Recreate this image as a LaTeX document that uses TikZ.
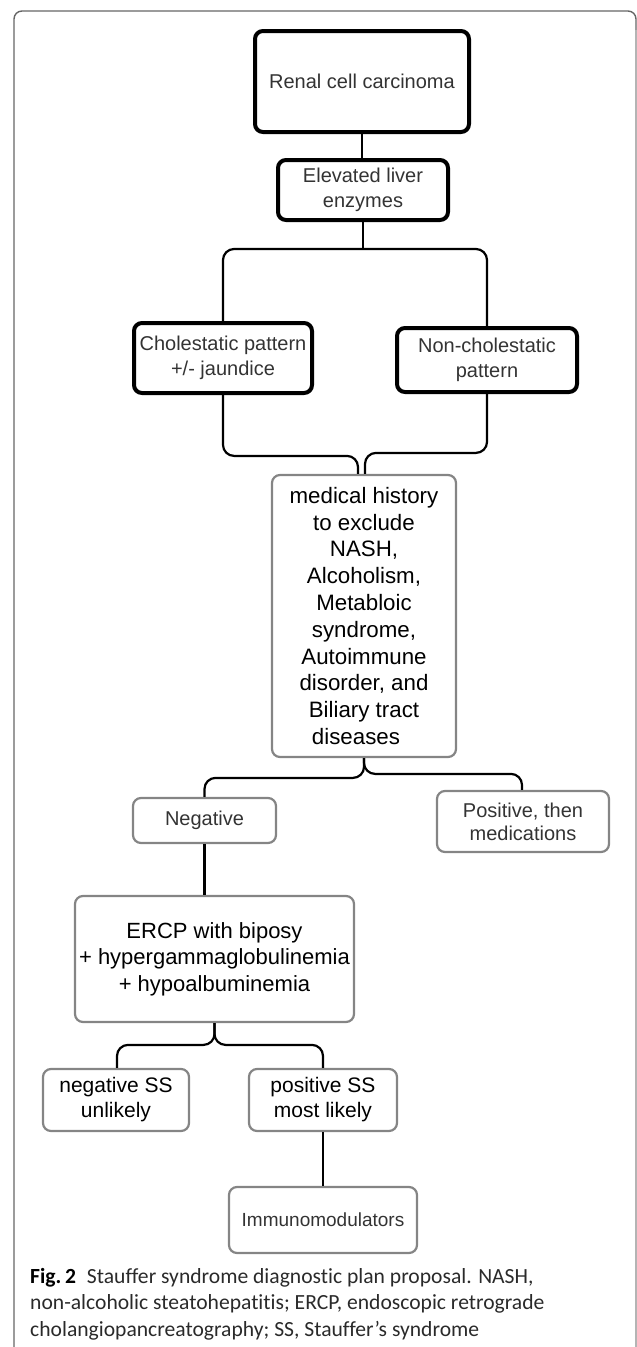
\documentclass[tikz,border=0pt]{standalone}
\usepackage{fontspec}
\setmainfont{Liberation Sans}
\newfontfamily\capfont[Ligatures=NoCommon]{Carlito}
\usetikzlibrary{calc}
\definecolor{txtgray}{HTML}{333333}
\definecolor{boxgray}{HTML}{858585}
\definecolor{framegray}{HTML}{666666}
\definecolor{framelight}{HTML}{B4B4B4}
\definecolor{captxt}{HTML}{2A2A2A}
\begin{document}
\begin{tikzpicture}[x=1pt,y=-1pt,
  heavy/.style={draw=black, line width=4pt, rounded corners=8pt, inner sep=0pt, align=center,
    text=txtgray, font=\fontsize{20}{25}\selectfont},
  light/.style={draw=boxgray, line width=2.2pt, rounded corners=8pt, inner sep=0pt, align=center},
  conn/.style={draw=black, line width=2.2pt},
  brace/.style={conn, rounded corners=11pt},
  captext/.style={anchor=base west, inner sep=0pt, text=captxt,
    font=\capfont\fontsize{21.6}{26.5}\selectfont}]
\useasboundingbox (0,0) rectangle (637,1347);
% outer frame
\draw[framegray, line width=1.4pt, rounded corners=8pt] (14,1360) -- (14,11) -- (636,11) -- (636,40);
\draw[framelight, line width=1.2pt] (636,30) -- (636,1360);

% upper nodes
\node[heavy, minimum width=214pt, minimum height=101pt] (renal) at (362,81.5) {Renal cell carcinoma};
\node[heavy, minimum width=170pt, minimum height=60pt] (elev) at (363,190) {Elevated liver\\enzymes};
\node[heavy, minimum width=178pt, minimum height=70pt] (chol) at (223,358) {Cholestatic pattern\\+/- jaundice};
\node[heavy, minimum width=180pt, minimum height=64pt] (nonchol) at (487,360) {Non-cholestatic\\pattern};

% lower nodes
\node[light, minimum width=184pt, minimum height=282pt, text=black,
  font=\fontsize{22.3}{26.8}\selectfont] (med) at (364,616)
  {medical history\\to exclude\\NASH,\\Alcoholism,\\Metabloic\\syndrome,\\Autoimmune\\disorder, and\\Biliary tract\\diseases\hspace*{16pt}};
\node[light, minimum width=143pt, minimum height=45pt, text=txtgray,
  font=\fontsize{20}{25}\selectfont] (neg) at (204.5,820.5) {Negative};
\node[light, minimum width=172pt, minimum height=61pt, text=txtgray,
  font=\fontsize{20}{23}\selectfont] (pos) at (523,821.5) {Positive, then\\medications};
\node[light, minimum width=279pt, minimum height=126pt, text=black,
  font=\fontsize{22}{26.5}\selectfont] (ercp) at (214.5,959) {ERCP with biposy\\+ hypergammaglobulinemia\\+ hypoalbuminemia};
\node[light, minimum width=146pt, minimum height=62pt, text=black,
  font=\fontsize{21}{25}\selectfont] (negss) at (116,1100) {negative SS\\unlikely};
\node[light, minimum width=148pt, minimum height=62pt, text=black,
  font=\fontsize{21}{25}\selectfont] (posss) at (323,1100) {positive SS\\most likely};
\node[light, minimum width=188pt, minimum height=66pt, text=txtgray,
  font=\fontsize{19}{23}\selectfont] (immuno) at (323,1220) {Immunomodulators};

% connectors
\draw[conn] (renal.south) -- (renal.south |- elev.north);
\draw[conn] (elev.south) -- ++(0,27) coordinate (split);
\draw[brace] (chol.north) |- (split) -| (nonchol.north);
\draw[brace] (chol.south) |- ($(med.north)+(-6,-18)$) -- ($(med.north)+(-6,0)$);
\draw[brace] (nonchol.south) |- ($(med.north)+(1,-21)$) -- ($(med.north)+(1,0)$);
\draw[brace] (med.south) |- ($(neg.north)+(0,-19)$) -- (neg.north);
\draw[brace] (med.south) |- ($(pos.north)+(-1,-16)$) -- ($(pos.north)+(-1,0)$);
\draw[conn] (neg.south) -- (neg.south |- ercp.north);
\draw[brace] (ercp.south) |- ($(negss.north)+(1,-23)$) -- ($(negss.north)+(1,0)$);
\draw[brace] (ercp.south) |- ($(posss.north)+(0,-23)$) -- (posss.north);
\draw[conn] (posss.south) -- (immuno.north);

% caption
\node[captext] (cap1) at (30,1283) {{\bfseries\color{black}Fig.\,2}\hspace{11pt}Stauffer syndrome diagnostic plan proposal. NASH,};
\node[captext] (cap2) at (30,1309) {non-alcoholic steatohepatitis; ERCP, endoscopic retrograde};
\node[captext] (cap3) at (30,1336) {cholangiopancreatography; SS, Stauffer’s syndrome};
\end{tikzpicture}
\end{document}
